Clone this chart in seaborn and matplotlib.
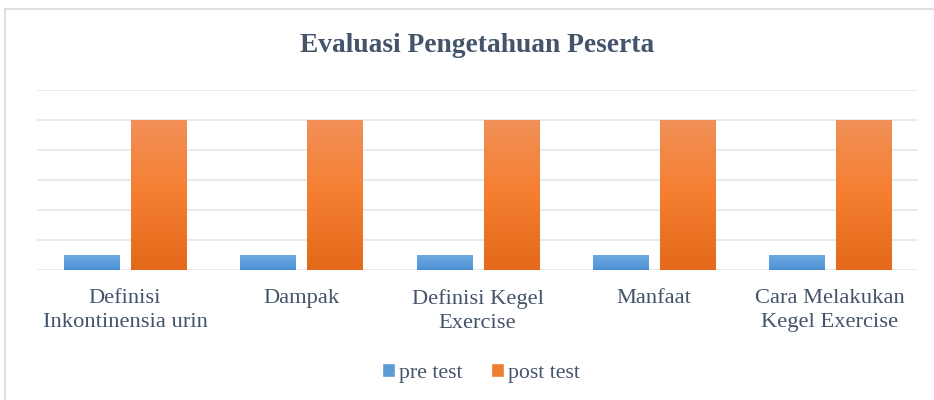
import numpy as np
import pandas as pd
import seaborn as sns
import matplotlib.pyplot as plt
from matplotlib.lines import Line2D
from matplotlib.patches import Patch
from matplotlib.colors import LinearSegmentedColormap

categories = ['Definisi\nInkontinensia urin', 'Dampak', 'Definisi Kegel\nExercise',
              'Manfaat', 'Cara Melakukan\nKegel Exercise']
pre_test = [0.5, 0.5, 0.5, 0.5, 0.5]
post_test = [5, 5, 5, 5, 5]
series = ['pre test', 'post test']

df = pd.DataFrame({
    'kategori': categories * 2,
    'nilai': pre_test + post_test,
    'tes': [series[0]] * len(categories) + [series[1]] * len(categories),
})

sns.set_theme(style='white')
plt.rcParams['font.family'] = ['Liberation Serif', 'DejaVu Serif']

text_col = '#44546A'
blue = '#5B9BD5'
orange = '#ED7D31'

fig = plt.figure(figsize=(9.34, 4), dpi=100)
ax = fig.add_axes([0.0396, 0.325, 0.9434, 0.45])

sns.barplot(data=df, x='kategori', y='nilai', hue='tes', palette=[blue, orange],
            width=0.76, gap=0.178, ax=ax, legend=False, saturation=1)

# gradient fill like the office chart
grads = {
    0: ['#6FA9DF', '#4A8FD6'],
    1: ['#F29058', '#F57E30', '#E4691A'],
}
n = len(categories)
for i, bar in enumerate(ax.patches):
    s = 0 if i < n else 1
    x0, y0 = bar.get_x(), bar.get_y()
    w, h = bar.get_width(), bar.get_height()
    cm = LinearSegmentedColormap.from_list('g', grads[s][::-1])
    grad = np.linspace(0, 1, 256).reshape(-1, 1)
    im = ax.imshow(grad, extent=[x0, x0 + w, y0, y0 + h], origin='lower',
                   cmap=cm, aspect='auto', zorder=bar.get_zorder() + 0.1)
    im.set_clip_path(bar)
    bar.set_edgecolor('none')

ax.set_xlim(-0.5, n - 0.5)
ax.set_ylim(0, 6)
ax.set_yticks(range(0, 7))
ax.yaxis.grid(True, color='#E1E4EA', linewidth=1.1)
ax.set_axisbelow(True)
ax.tick_params(axis='y', left=False, labelleft=False)
ax.set_xticks(range(n))
ax.set_xticklabels(categories, fontsize=16.2, color=text_col, linespacing=1.35)
ax.tick_params(axis='x', bottom=False, pad=8)
for sp in ax.spines.values():
    sp.set_visible(False)
ax.set_xlabel('')
ax.set_ylabel('')

fig.text(0.511, 0.887, 'Evaluasi Pengetahuan Peserta', ha='center', va='center',
         fontsize=19.8, fontweight='bold', color=text_col)

handles = [Patch(facecolor=blue, label=series[0]), Patch(facecolor=orange, label=series[1])]
leg = fig.legend(handles=handles, loc='center', bbox_to_anchor=(0.515, 0.068), ncol=2,
                 frameon=False, fontsize=15.7, handlelength=0.6, handleheight=0.6,
                 handletextpad=0.2, columnspacing=1.3)
for t in leg.get_texts():
    t.set_color(text_col)

# chart border (left and top visible)
fig.add_artist(Line2D([0.005, 0.005], [0, 0.978], color='#D9D9D9', linewidth=1.2))
fig.add_artist(Line2D([0.005, 1], [0.978, 0.978], color='#D9D9D9', linewidth=1.2))

fig.savefig('out.png', dpi=100)
